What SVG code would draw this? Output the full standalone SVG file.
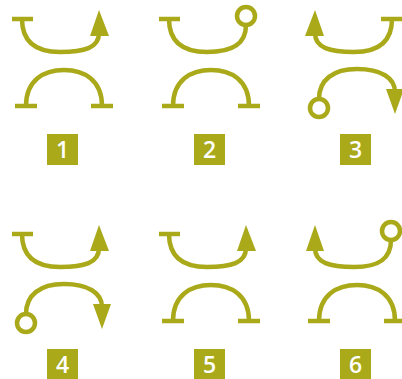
<svg xmlns="http://www.w3.org/2000/svg" xmlns:xlink="http://www.w3.org/1999/xlink" width="402" height="379" viewBox="0 0 402 379">
<style>
.s{fill:none;stroke:#A9A91A;stroke-width:4.5}
.f{fill:#A9A91A}
.lbl{fill:#ffffff;font-family:"Open Sans","DejaVu Sans",sans-serif;font-size:23px;font-weight:600;text-anchor:middle}
</style>
<defs>
<g id="topArrow">
<line class="s" x1="12" y1="19" x2="33" y2="19"/>
<path class="s" d="M22,19 C22,44 38,52 60,52 C84,52 99,48 99,33"/>
<polygon class="f" points="99,10 90,36 109,36"/>
</g>
<g id="topCircle">
<line class="s" x1="12" y1="19" x2="33" y2="19"/>
<path class="s" d="M22,19 C22,44 38,52 60,52 C84,52 99,45 99,25"/>
<circle class="s" cx="99" cy="16" r="9"/>
</g>
<g id="topArrowCircle">
<path class="s" d="M22,33 C22,48 37,52 61,52 C84,52 98,45 98,25"/>
<polygon class="f" points="22,10 13,36 31,36"/>
<circle class="s" cx="98" cy="16" r="9"/>
</g>
<g id="botArc">
<path class="s" d="M26,106 C26,80 44,70 64,70 C84,70 102,80 102,106"/>
<line class="s" x1="15" y1="106" x2="37" y2="106"/>
<line class="s" x1="91" y1="106" x2="113" y2="106"/>
</g>
<g id="botCircleArrow">
<circle class="s" cx="26" cy="108" r="9"/>
<path class="s" d="M26,99 C26,80 40,69 64,69 C88,69 102,78 102,92"/>
<polygon class="f" points="102,114 93,89 111,89"/>
</g>
<rect id="box" class="f" x="47" y="134" width="31" height="31"/>
</defs>
<g id="panel1">
<use xlink:href="#topArrow"/>
<use xlink:href="#botArc"/>
<use xlink:href="#box"/>
<text class="lbl" x="62.5" y="158">1</text>
</g>
<g id="panel2" transform="translate(147,0)">
<use xlink:href="#topCircle"/>
<use xlink:href="#botArc"/>
<use xlink:href="#box"/>
<text class="lbl" x="62.5" y="158">2</text>
</g>
<g id="panel3" transform="translate(293,0)">
<g transform="translate(121,0) scale(-1,1)"><use xlink:href="#topArrow"/></g>
<use xlink:href="#botCircleArrow"/>
<use xlink:href="#box"/>
<text class="lbl" x="62.5" y="158">3</text>
</g>
<g id="panel4" transform="translate(0,215)">
<use xlink:href="#topArrow"/>
<use xlink:href="#botCircleArrow"/>
<use xlink:href="#box"/>
<text class="lbl" x="62.5" y="158">4</text>
</g>
<g id="panel5" transform="translate(147,215)">
<use xlink:href="#topArrow"/>
<use xlink:href="#botArc"/>
<use xlink:href="#box"/>
<text class="lbl" x="62.5" y="158">5</text>
</g>
<g id="panel6" transform="translate(293,215)">
<use xlink:href="#topArrowCircle"/>
<use xlink:href="#botArc"/>
<use xlink:href="#box"/>
<text class="lbl" x="62.5" y="158">6</text>
</g>
<g id="connectors"/>
</svg>
